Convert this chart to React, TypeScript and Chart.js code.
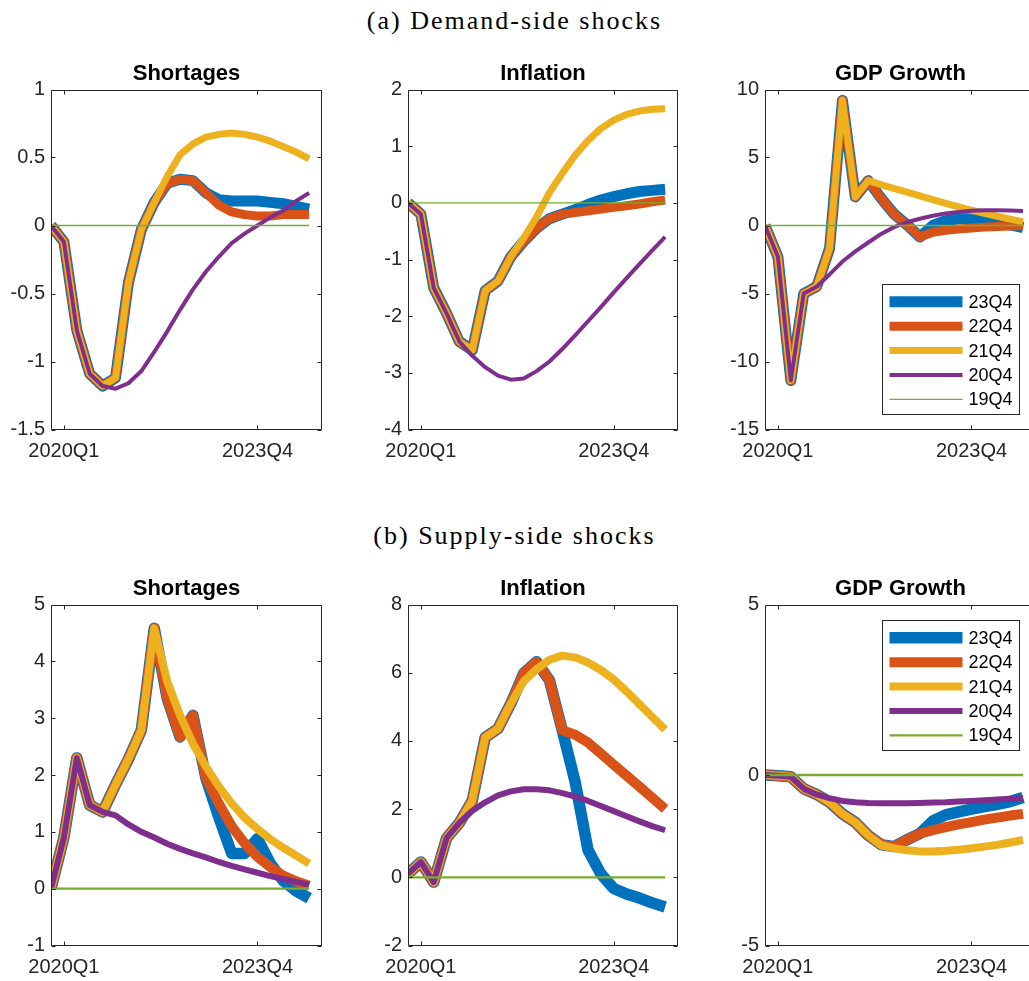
import React, { useEffect, useRef } from 'react';
import { Chart, registerables } from 'chart.js';

Chart.register(...registerables);

// ---------------- data ----------------
const quarters = [
  '2019Q4', '2020Q1', '2020Q2', '2020Q3', '2020Q4',
  '2021Q1', '2021Q2', '2021Q3', '2021Q4',
  '2022Q1', '2022Q2', '2022Q3', '2022Q4',
  '2023Q1', '2023Q2', '2023Q3', '2023Q4',
  '2024Q1', '2024Q2', '2024Q3', '2024Q4',
];
const xTickLabels = ['2020Q1', '2023Q4'];
const scenarios = ['23Q4', '22Q4', '21Q4', '20Q4', '19Q4'];
const colors = ['#0072BD', '#D95319', '#EDB120', '#7E2F8E', '#77AC30'];

const zeros = [0, 0, 0, 0, 0, 0, 0, 0, 0, 0, 0, 0, 0, 0, 0, 0, 0, 0, 0, 0, 0];

// (a) Demand-side shocks
const dShortBlue = [0, -0.12, -0.77, -1.09, -1.18, -1.12, -0.42, -0.03, 0.17, 0.31, 0.34, 0.33, 0.24, 0.19, 0.18, 0.18, 0.18, 0.17, 0.16, 0.14, 0.12];
const dShortRed = [0, -0.12, -0.77, -1.09, -1.18, -1.12, -0.42, -0.03, 0.17, 0.31, 0.34, 0.33, 0.24, 0.15, 0.10, 0.08, 0.07, 0.07, 0.08, 0.08, 0.08];
const dShortYellow = [0, -0.12, -0.77, -1.09, -1.18, -1.12, -0.42, -0.03, 0.17, 0.36, 0.52, 0.60, 0.65, 0.67, 0.68, 0.67, 0.65, 0.62, 0.58, 0.54, 0.49];
const dShortPurple = [0, -0.12, -0.77, -1.09, -1.18, -1.20, -1.16, -1.07, -0.93, -0.78, -0.62, -0.47, -0.34, -0.23, -0.13, -0.06, 0.00, 0.06, 0.11, 0.18, 0.24];

const dInflBlue = [0, -0.2, -1.5, -1.95, -2.45, -2.6, -1.55, -1.38, -0.95, -0.68, -0.45, -0.28, -0.2, -0.12, -0.03, 0.05, 0.11, 0.16, 0.2, 0.22, 0.24];
const dInflRed = [0, -0.2, -1.5, -1.95, -2.45, -2.6, -1.55, -1.38, -0.95, -0.68, -0.45, -0.28, -0.2, -0.17, -0.14, -0.11, -0.08, -0.05, -0.02, 0.02, 0.05];
const dInflYellow = [0, -0.2, -1.5, -1.95, -2.45, -2.6, -1.55, -1.38, -0.95, -0.62, -0.25, 0.18, 0.52, 0.84, 1.1, 1.31, 1.46, 1.56, 1.62, 1.65, 1.66];
const dInflPurple = [0, -0.2, -1.5, -1.95, -2.45, -2.7, -2.9, -3.05, -3.12, -3.1, -2.97, -2.8, -2.58, -2.34, -2.09, -1.84, -1.58, -1.33, -1.08, -0.84, -0.6];

const dGdpBlue = [0, -2.3, -11.4, -5.0, -4.5, -1.7, 9.2, 2.1, 3.3, 2.0, 0.85, 0.05, -0.85, 0.0, 0.35, 0.5, 0.5, 0.4, 0.25, 0.05, -0.15];
const dGdpRed = [0, -2.3, -11.4, -5.0, -4.5, -1.7, 9.2, 2.1, 3.3, 2.0, 0.85, 0.05, -0.85, -0.5, -0.35, -0.25, -0.18, -0.12, -0.07, -0.03, 0.0];
const dGdpYellow = [0, -2.3, -11.4, -5.0, -4.5, -1.7, 9.2, 2.1, 3.3, 3.0, 2.72, 2.45, 2.18, 1.9, 1.63, 1.37, 1.12, 0.9, 0.68, 0.47, 0.27];
const dGdpPurple = [0, -2.3, -11.4, -5.0, -4.5, -3.6, -2.65, -1.9, -1.25, -0.62, -0.12, 0.24, 0.5, 0.72, 0.89, 1.0, 1.08, 1.12, 1.13, 1.11, 1.07];

// (b) Supply-side shocks
const sShortBlue = [0, 0.9, 2.3, 1.47, 1.35, 1.83, 2.28, 2.79, 4.58, 3.35, 2.67, 3.05, 1.95, 1.26, 0.62, 0.62, 0.88, 0.44, 0.14, -0.04, -0.17];
const sShortRed = [0, 0.9, 2.3, 1.47, 1.35, 1.83, 2.28, 2.79, 4.58, 3.35, 2.67, 3.05, 1.95, 1.5, 1.1, 0.8, 0.56, 0.38, 0.23, 0.13, 0.05];
const sShortYellow = [0, 0.9, 2.3, 1.47, 1.35, 1.83, 2.28, 2.79, 4.58, 3.65, 3.05, 2.55, 2.15, 1.8, 1.5, 1.25, 1.05, 0.87, 0.72, 0.58, 0.44];
const sShortPurple = [0, 0.9, 2.3, 1.47, 1.35, 1.29, 1.13, 1.0, 0.9, 0.79, 0.7, 0.62, 0.55, 0.47, 0.4, 0.34, 0.28, 0.22, 0.17, 0.12, 0.07];

const sInflBlue = [0.1, 0.45, -0.14, 1.15, 1.6, 2.25, 4.1, 4.36, 5.1, 5.98, 6.32, 5.78, 4.31, 2.8, 0.8, 0.1, -0.33, -0.49, -0.61, -0.75, -0.87];
const sInflRed = [0.1, 0.45, -0.14, 1.15, 1.6, 2.25, 4.1, 4.36, 5.1, 5.98, 6.32, 5.78, 4.31, 4.18, 3.95, 3.63, 3.3, 2.98, 2.66, 2.33, 2.0];
const sInflYellow = [0.1, 0.45, -0.14, 1.15, 1.6, 2.25, 4.1, 4.36, 5.1, 5.75, 6.1, 6.38, 6.5, 6.45, 6.3, 6.08, 5.8, 5.45, 5.08, 4.7, 4.33];
const sInflPurple = [0.1, 0.45, -0.14, 1.15, 1.6, 1.95, 2.2, 2.4, 2.52, 2.58, 2.58, 2.55, 2.47, 2.37, 2.24, 2.09, 1.94, 1.79, 1.64, 1.5, 1.38];

const sGdpBlue = [0, -0.02, -0.05, -0.4, -0.57, -0.8, -1.14, -1.39, -1.77, -2.04, -2.1, -1.9, -1.72, -1.35, -1.17, -1.08, -1.0, -0.93, -0.86, -0.78, -0.66];
const sGdpRed = [0, -0.02, -0.05, -0.4, -0.57, -0.8, -1.14, -1.39, -1.77, -2.04, -2.1, -1.9, -1.72, -1.62, -1.53, -1.45, -1.38, -1.31, -1.25, -1.19, -1.14];
const sGdpYellow = [0, -0.02, -0.05, -0.4, -0.57, -0.8, -1.14, -1.39, -1.77, -2.06, -2.15, -2.21, -2.24, -2.24, -2.22, -2.19, -2.15, -2.1, -2.05, -1.98, -1.9];
const sGdpPurple = [0, -0.02, -0.05, -0.4, -0.57, -0.68, -0.76, -0.8, -0.82, -0.83, -0.83, -0.83, -0.82, -0.81, -0.8, -0.78, -0.76, -0.74, -0.72, -0.7, -0.68];

// ---------------- layout / style ----------------
const SIDE = 70;
const RIGHT_PAD = 10;
const TITLE_PAD_BOTTOM = 2.1;
const TITLE_H = 22 * 1.2 + TITLE_PAD_BOTTOM;
const XAXIS_H = 45;
const TICK_LEN = 4;
const AXIS_COLOR = '#262626';
const SANS = '"Liberation Sans", Arial, Helvetica, sans-serif';

const topWidths = [11, 9, 7, 4, 1.3];
const bottomWidths = [11.5, 10, 8, 6, 2.3];

type LegendBox = { x: number; y: number; w: number; h: number };
type PanelCfg = {
  title: string;
  series: number[][];
  yMin: number;
  yMax: number;
  yStep: number;
  widths: number[];
  left: number;
  top: number;
  width: number;
  height: number;
  legend?: LegendBox;
};

const panels: PanelCfg[] = [
  { title: 'Shortages', series: [dShortBlue, dShortRed, dShortYellow, dShortPurple, zeros], yMin: -1.5, yMax: 1, yStep: 0.5, widths: topWidths, left: 51, top: 89, width: 271, height: 340 },
  { title: 'Inflation', series: [dInflBlue, dInflRed, dInflYellow, dInflPurple, zeros], yMin: -4, yMax: 2, yStep: 1, widths: topWidths, left: 408, top: 89, width: 270, height: 340 },
  { title: 'GDP Growth', series: [dGdpBlue, dGdpRed, dGdpYellow, dGdpPurple, zeros], yMin: -15, yMax: 10, yStep: 5, widths: topWidths, left: 765, top: 89, width: 271, height: 340, legend: { x: 117, y: 194, w: 137, h: 130 } },
  { title: 'Shortages', series: [sShortBlue, sShortRed, sShortYellow, sShortPurple, zeros], yMin: -1, yMax: 5, yStep: 1, widths: bottomWidths, left: 51, top: 604, width: 271, height: 341 },
  { title: 'Inflation', series: [sInflBlue, sInflRed, sInflYellow, sInflPurple, zeros], yMin: -2, yMax: 8, yStep: 2, widths: bottomWidths, left: 408, top: 604, width: 270, height: 341 },
  { title: 'GDP Growth', series: [sGdpBlue, sGdpRed, sGdpYellow, sGdpPurple, zeros], yMin: -5, yMax: 5, yStep: 5, widths: bottomWidths, left: 765, top: 604, width: 271, height: 341, legend: { x: 117, y: 15, w: 137, h: 130 } },
];

function makeFramePlugin(cfg: PanelCfg) {
  return {
    id: 'matlabFrame',
    afterDraw(chart: any) {
      const { ctx, chartArea: a, scales } = chart;
      const xs = scales.x;
      const ys = scales.y;
      ctx.save();
      ctx.strokeStyle = AXIS_COLOR;
      ctx.lineWidth = 1;
      const L = Math.round(a.left) + 0.5;
      const R = Math.round(a.right) - 0.5;
      const T = Math.round(a.top) + 0.5;
      const B = Math.round(a.bottom) - 0.5;
      ctx.beginPath();
      ys.ticks.forEach((t: any) => {
        const py = Math.round(ys.getPixelForValue(t.value)) + 0.5;
        ctx.moveTo(L, py);
        ctx.lineTo(L + TICK_LEN, py);
        ctx.moveTo(R, py);
        ctx.lineTo(R - TICK_LEN, py);
      });
      xs.ticks.forEach((t: any) => {
        const px = Math.round(xs.getPixelForValue(t.value)) + 0.5;
        ctx.moveTo(px, B);
        ctx.lineTo(px, B - TICK_LEN);
        ctx.moveTo(px, T);
        ctx.lineTo(px, T + TICK_LEN);
      });
      ctx.rect(L, T, R - L, B - T);
      ctx.stroke();

      const lg = cfg.legend;
      if (lg) {
        const bx = Math.round(a.left + lg.x) + 0.5;
        const by = Math.round(a.top + lg.y) + 0.5;
        ctx.fillStyle = '#ffffff';
        ctx.fillRect(bx, by, lg.w, lg.h);
        ctx.strokeStyle = AXIS_COLOR;
        ctx.lineWidth = 1;
        ctx.strokeRect(bx, by, lg.w, lg.h);
        chart.data.datasets.forEach((ds: any, i: number) => {
          const cy = by + 17.3 + i * 24.4;
          ctx.strokeStyle = ds.borderColor;
          ctx.lineWidth = ds.borderWidth;
          ctx.lineCap = 'butt';
          ctx.beginPath();
          ctx.moveTo(bx + 7, cy);
          ctx.lineTo(bx + 80, cy);
          ctx.stroke();
          ctx.fillStyle = '#000000';
          ctx.font = `18px ${SANS}`;
          ctx.textAlign = 'left';
          ctx.textBaseline = 'middle';
          ctx.fillText(ds.label, bx + 86, cy + 1);
        });
      }
      ctx.restore();
    },
  };
}

function Panel({ cfg }: { cfg: PanelCfg }) {
  const ref = useRef<HTMLCanvasElement | null>(null);
  const cw = SIDE + cfg.width + RIGHT_PAD;
  const ch = Math.round(TITLE_H + cfg.height + XAXIS_H);
  const canvasTop = cfg.top - TITLE_H;

  useEffect(() => {
    if (!ref.current) return;
    const n = cfg.series.length;
    const chart = new Chart(ref.current, {
      type: 'line',
      data: {
        datasets: cfg.series.map((vals, i) => ({
          label: scenarios[i],
          data: vals.map((v, k) => ({ x: k, y: v })),
          borderColor: colors[i],
          backgroundColor: colors[i],
          borderWidth: cfg.widths[i],
          pointRadius: 0,
          pointHoverRadius: 0,
          tension: 0,
          borderJoinStyle: 'round',
          borderCapStyle: 'butt',
          fill: false,
          order: n - i,
        })),
      },
      options: {
        responsive: false,
        maintainAspectRatio: false,
        animation: false,
        devicePixelRatio: 1,
        events: [],
        layout: { padding: { left: 0, right: RIGHT_PAD, top: 0, bottom: 0 } },
        plugins: {
          legend: { display: false },
          tooltip: { enabled: false },
          title: {
            display: true,
            fullSize: false,
            text: cfg.title,
            color: '#000000',
            font: { family: SANS, size: 22, weight: 'bold', lineHeight: 1.2 },
            padding: { top: 0, bottom: TITLE_PAD_BOTTOM },
          },
        },
        scales: {
          x: {
            type: 'linear',
            min: 0,
            max: quarters.length,
            grid: { display: false, drawTicks: false },
            border: { display: false },
            afterBuildTicks: (s: any) => {
              s.ticks = xTickLabels.map((q) => ({ value: quarters.indexOf(q) }));
            },
            afterFit: (s: any) => {
              s.height = ch - TITLE_H - cfg.height;
              s.paddingLeft = 0;
              s.paddingRight = 0;
            },
            ticks: {
              autoSkip: false,
              maxRotation: 0,
              minRotation: 0,
              padding: 10,
              color: AXIS_COLOR,
              font: { family: SANS, size: 20 },
              callback: (v: any) => quarters[Math.round(Number(v))] ?? '',
            },
          },
          y: {
            type: 'linear',
            min: cfg.yMin,
            max: cfg.yMax,
            grid: { display: false, drawTicks: false },
            border: { display: false },
            afterFit: (s: any) => {
              s.width = SIDE;
              s.paddingTop = 0;
              s.paddingBottom = 0;
            },
            ticks: {
              stepSize: cfg.yStep,
              padding: 6,
              color: AXIS_COLOR,
              font: { family: SANS, size: 20 },
              callback: (v: any) => String(Math.round(Number(v) * 100) / 100),
            },
          },
        },
      } as any,
      plugins: [makeFramePlugin(cfg)],
    });
    return () => chart.destroy();
  }, [cfg]);

  return (
    <canvas
      ref={ref}
      width={cw}
      height={ch}
      style={{ position: 'absolute', left: cfg.left - SIDE, top: canvasTop, width: cw, height: ch }}
    />
  );
}

const headingStyle = (top: number): React.CSSProperties => ({
  position: 'absolute',
  left: 0,
  top,
  width: 1029,
  textAlign: 'center',
  fontFamily: '"Liberation Serif", "Times New Roman", serif',
  fontSize: 26,
  lineHeight: '26px',
  letterSpacing: '2px',
  color: '#000',
  whiteSpace: 'nowrap',
});

export default function App() {
  return (
    <div style={{ position: 'absolute', left: 0, top: 0, width: 1029, height: 981, overflow: 'hidden', background: '#ffffff' }}>
      <div style={headingStyle(7.5)}>(a) Demand-side shocks</div>
      <div style={headingStyle(522.5)}>(b) Supply-side shocks</div>
      {panels.map((p, i) => (
        <Panel key={i} cfg={p} />
      ))}
    </div>
  );
}
